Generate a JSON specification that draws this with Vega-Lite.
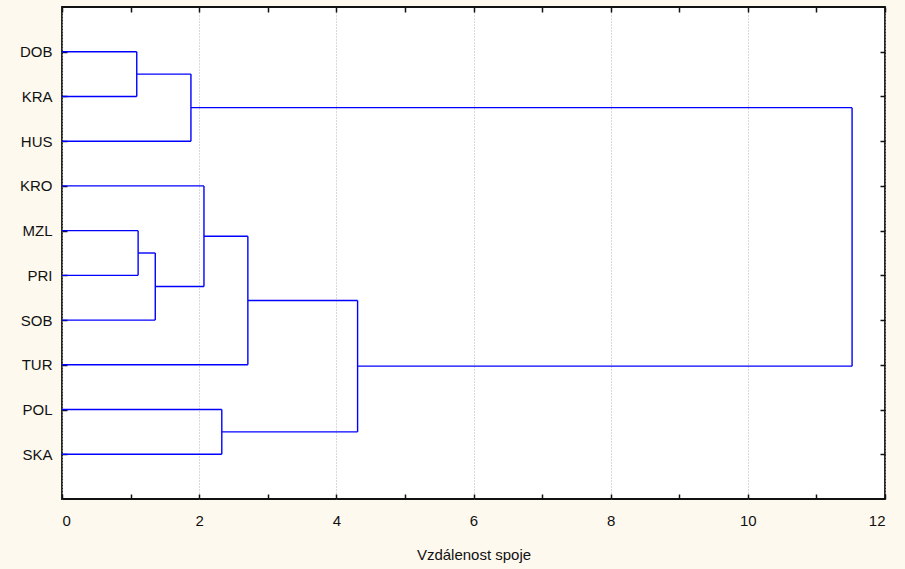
{
  "$schema": "https://vega.github.io/schema/vega-lite/v6.json",
  "width": 823,
  "height": 492,
  "autosize": "none",
  "padding": {"left": 62, "top": 7, "right": 20, "bottom": 70},
  "background": "#fef9ee",
  "config": {
    "view": {"stroke": "#111111", "strokeWidth": 1.8, "fill": "#ffffff"},
    "axis": {"labelFont": "Liberation Sans", "titleFont": "Liberation Sans", "labelColor": "#111111", "titleColor": "#111111", "domain": false, "tickColor": "#111111", "tickWidth": 1.5}
  },
  "data": {
    "values": [
      {"x": 0, "x2": 1.09, "y": 1, "y2": 1},
      {"x": 0, "x2": 1.09, "y": 2, "y2": 2},
      {"x": 1.09, "x2": 1.09, "y": 1, "y2": 2},
      {"x": 1.09, "x2": 1.88, "y": 1.5, "y2": 1.5},
      {"x": 0, "x2": 1.88, "y": 3, "y2": 3},
      {"x": 1.88, "x2": 1.88, "y": 1.5, "y2": 3},
      {"x": 1.88, "x2": 11.52, "y": 2.25, "y2": 2.25},
      {"x": 0, "x2": 2.07, "y": 4, "y2": 4},
      {"x": 0, "x2": 1.11, "y": 5, "y2": 5},
      {"x": 0, "x2": 1.11, "y": 6, "y2": 6},
      {"x": 1.11, "x2": 1.11, "y": 5, "y2": 6},
      {"x": 1.11, "x2": 1.36, "y": 5.5, "y2": 5.5},
      {"x": 0, "x2": 1.36, "y": 7, "y2": 7},
      {"x": 1.36, "x2": 1.36, "y": 5.5, "y2": 7},
      {"x": 1.36, "x2": 2.07, "y": 6.25, "y2": 6.25},
      {"x": 2.07, "x2": 2.07, "y": 4, "y2": 6.25},
      {"x": 2.07, "x2": 2.71, "y": 5.125, "y2": 5.125},
      {"x": 0, "x2": 2.71, "y": 8, "y2": 8},
      {"x": 2.71, "x2": 2.71, "y": 5.125, "y2": 8},
      {"x": 2.71, "x2": 4.31, "y": 6.5625, "y2": 6.5625},
      {"x": 0, "x2": 2.33, "y": 9, "y2": 9},
      {"x": 0, "x2": 2.33, "y": 10, "y2": 10},
      {"x": 2.33, "x2": 2.33, "y": 9, "y2": 10},
      {"x": 2.33, "x2": 4.31, "y": 9.5, "y2": 9.5},
      {"x": 4.31, "x2": 4.31, "y": 6.5625, "y2": 9.5},
      {"x": 4.31, "x2": 11.52, "y": 8.03, "y2": 8.03},
      {"x": 11.52, "x2": 11.52, "y": 2.25, "y2": 8.03}
    ]
  },
  "layer": [
    {
      "mark": {"type": "rule", "color": "#0000ff", "strokeWidth": 1.4},
      "encoding": {
        "x": {
          "field": "x", "type": "quantitative",
          "scale": {"domain": [0, 12], "nice": false, "zero": false},
          "axis": {
            "orient": "bottom",
            "title": "Vzdálenost spoje",
            "titleFontSize": 15, "titleFontWeight": "normal", "titlePadding": 19,
            "values": [0,1,2,3,4,5,6,7,8,9,10,11,12],
            "labelExpr": "datum.value % 2 === 0 ? datum.label : ''",
            "labelFontSize": 15, "labelPadding": 19,
            "tickSize": -5,
            "grid": true, "gridColor": "#b0b0b0", "gridDash": [1, 2], "gridWidth": 1,
            "gridOpacity": {"condition": {"test": "datum.value % 2 === 1", "value": 0}, "value": 1}
          }
        },
        "x2": {"field": "x2"},
        "y": {
          "field": "y", "type": "quantitative",
          "scale": {"domain": [0, 11], "nice": false, "zero": false, "reverse": true},
          "axis": {
            "orient": "left",
            "title": null,
            "values": [1,2,3,4,5,6,7,8,9,10],
            "labelExpr": "['', 'DOB', 'KRA', 'HUS', 'KRO', 'MZL', 'PRI', 'SOB', 'TUR', 'POL', 'SKA'][datum.value]",
            "labelFontSize": 15, "labelPadding": 15,
            "tickSize": -5, "grid": false
          }
        },
        "y2": {"field": "y2"}
      }
    },
    {
      "mark": {"type": "rule", "opacity": 0},
      "encoding": {
        "x": {
          "field": "x", "type": "quantitative",
          "axis": {"orient": "top", "title": null, "labels": false, "values": [0,1,2,3,4,5,6,7,8,9,10,11,12], "tickSize": -5, "grid": false}
        },
        "y": {
          "field": "y", "type": "quantitative",
          "axis": {"orient": "right", "title": null, "labels": false, "values": [1,2,3,4,5,6,7,8,9,10], "tickSize": -5, "grid": false}
        }
      }
    }
  ],
  "resolve": {"axis": {"x": "independent", "y": "independent"}}
}
